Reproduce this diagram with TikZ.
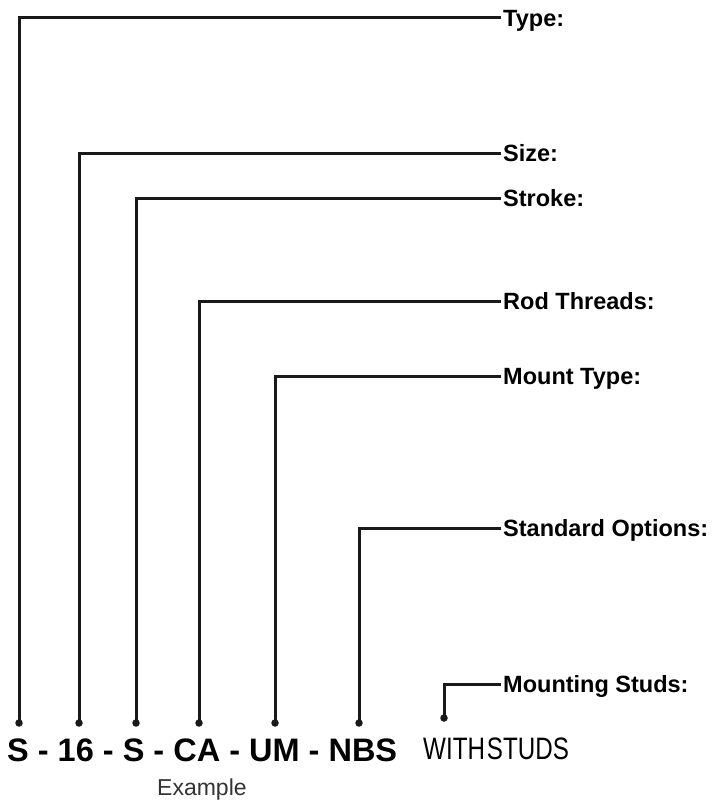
\documentclass[tikz,border=0pt]{standalone}
\usepackage{fontspec}
\setmainfont{Liberation Sans}
\newfontfamily\cond[FakeStretch=0.78]{Liberation Sans}
\begin{document}
\begin{tikzpicture}[x=1pt,y=-1pt,
  lbl/.style={anchor=west, inner xsep=2pt, inner ysep=0pt, text height=16.8pt, text depth=0pt, font=\bfseries\fontsize{23.5}{26}\selectfont},
  dotn/.style={circle, fill=black!90, inner sep=0pt, minimum size=7.5pt},
  lead/.style={line width=3pt, draw=black!90, line join=miter},
  code/.style={anchor=base west, inner sep=0pt, font=\bfseries\fontsize{32.5}{36}\selectfont},
  studs/.style={anchor=base west, inner sep=0pt, font=\cond\fontsize{31}{34}\selectfont},
  ex/.style={anchor=base west, inner sep=0pt, text=black!80, font=\fontsize{23}{26}\selectfont}]
\useasboundingbox (0,0) rectangle (712,800);
\node[lbl] (type) at (501,18) {Type:};
\node[lbl] (size) at (501,153) {Size:};
\node[lbl] (stroke) at (501,198) {Stroke:};
\node[lbl] (rod) at (501,301) {Rod Threads:};
\node[lbl] (mount) at (501,376) {Mount Type:};
\node[lbl] (opts) at (501,528) {Standard Options:};
\node[lbl] (mstuds) at (501,684) {Mounting Studs:};
\node[dotn] (d1) at (19,723) {};
\node[dotn] (d2) at (79,723) {};
\node[dotn] (d3) at (136,723) {};
\node[dotn] (d4) at (199,723) {};
\node[dotn] (d5) at (275,723) {};
\node[dotn] (d6) at (359,723) {};
\node[dotn] (d7) at (444,718) {};
\draw[lead] (d1.center) |- (type.west);
\draw[lead] (d2.center) |- (size.west);
\draw[lead] (d3.center) |- (stroke.west);
\draw[lead] (d4.center) |- (rod.west);
\draw[lead] (d5.center) |- (mount.west);
\draw[lead] (d6.center) |- (opts.west);
\draw[lead] (d7.center) |- (mstuds.west);
\node[code] (codetxt) at (7,761) {S - 16 - S - CA - UM - NBS};
\node[studs] (withstuds) at (423,759) {WITH\hspace{2pt}STUDS};
\node[ex] (example) at (157,795) {Example};
\end{tikzpicture}
\end{document}
